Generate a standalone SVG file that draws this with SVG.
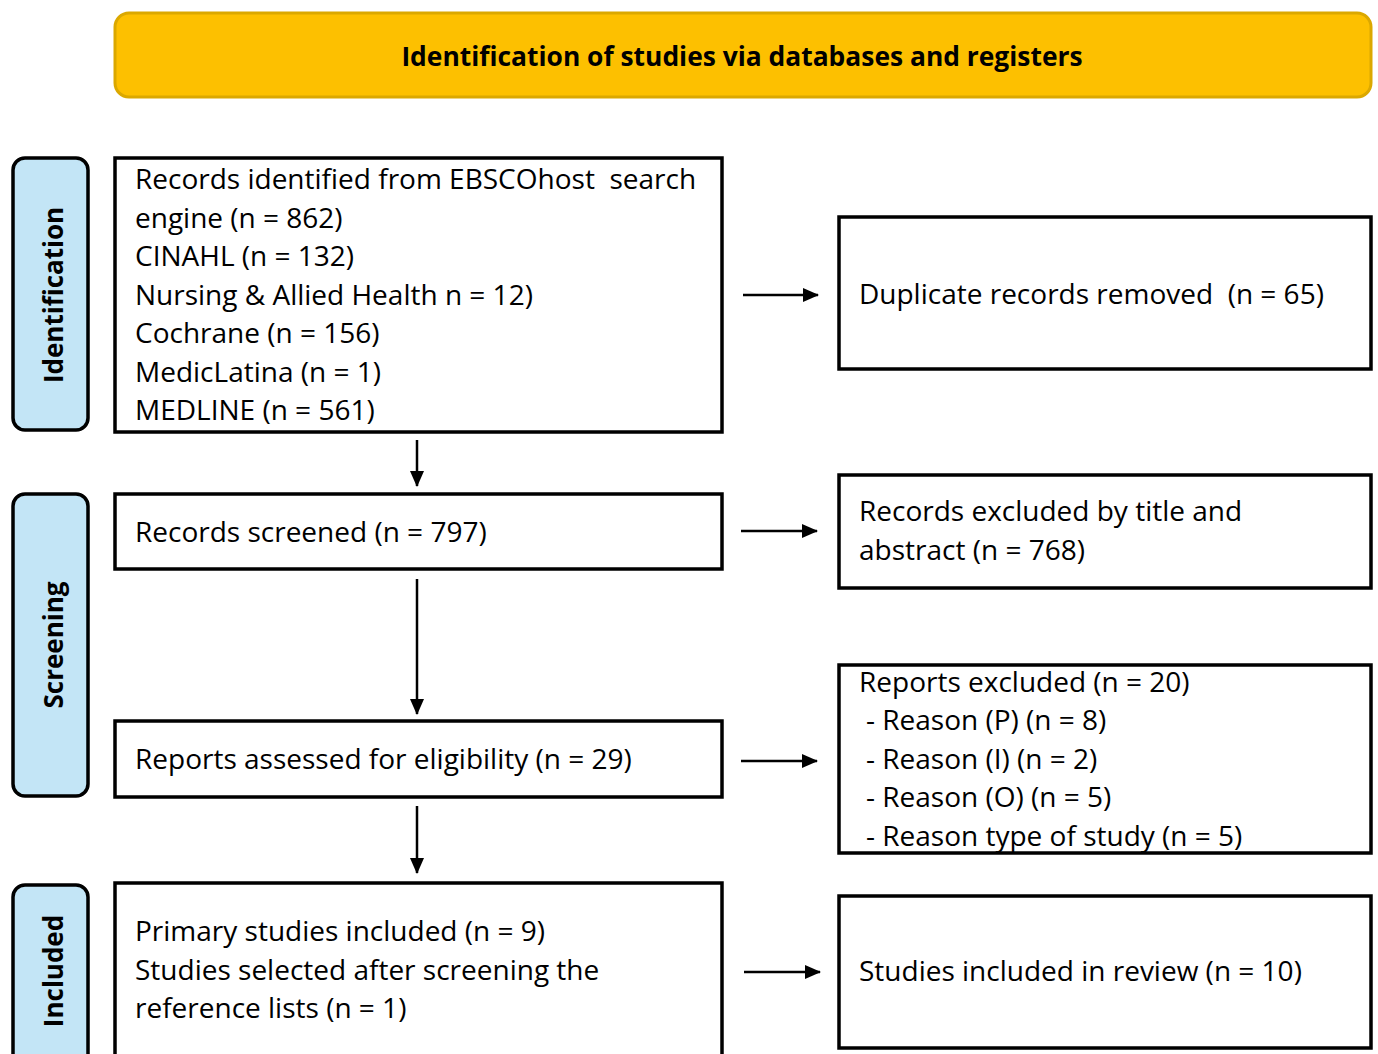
<svg xmlns="http://www.w3.org/2000/svg" width="1378" height="1054" viewBox="0 0 1378 1054">
<style>
.box{fill:#fff;stroke:#000;stroke-width:3.5}
.side{fill:#C3E5F6;stroke:#000;stroke-width:3.5}
.t{font-family:"Open Sans","Liberation Sans",sans-serif;font-size:28px;fill:#000;white-space:pre}
.sl{font-family:"Open Sans","Liberation Sans",sans-serif;font-size:26px;font-weight:bold;fill:#000;text-anchor:middle}
.ttl{font-family:"Open Sans","Liberation Sans",sans-serif;font-size:26.4px;font-weight:bold;fill:#000;text-anchor:middle}
.c{stroke:#000;stroke-width:2.5;fill:none}
</style>
<defs>
<marker id="a" markerWidth="16" markerHeight="14" refX="15" refY="7" orient="auto" markerUnits="userSpaceOnUse" viewBox="0 0 16 14">
<path d="M0,0 L16,7 L0,14 z" fill="#000"/>
</marker>
</defs>
<rect width="1378" height="1054" fill="#fff"/>
<g id="banner">
<rect x="115" y="13" width="1256" height="84" rx="14" fill="#FDC000" stroke="#DBA800" stroke-width="3"/>
<text class="ttl" x="742" y="66">Identification of studies via databases and registers</text>
</g>
<g id="side-identification">
<rect class="side" x="13" y="158" width="75" height="272" rx="12"/>
<text class="sl" transform="translate(63,295) rotate(-90)">Identification</text>
</g>
<g id="side-screening">
<rect class="side" x="13" y="494" width="75" height="302" rx="12"/>
<text class="sl" transform="translate(63,645) rotate(-90)">Screening</text>
</g>
<g id="side-included">
<rect class="side" x="13" y="885" width="75" height="185" rx="12"/>
<text class="sl" transform="translate(63,971) rotate(-90)">Included</text>
</g>
<g id="records-identified">
<rect class="box" x="115" y="158" width="607" height="274"/>
<text class="t" x="135" y="189" xml:space="preserve">Records identified from EBSCOhost  search</text>
<text class="t" x="135" y="228">engine (n = 862)</text>
<text class="t" x="135" y="266">CINAHL (n = 132)</text>
<text class="t" x="135" y="305">Nursing &amp; Allied Health n = 12)</text>
<text class="t" x="135" y="343">Cochrane (n = 156)</text>
<text class="t" x="135" y="382">MedicLatina (n = 1)</text>
<text class="t" x="135" y="420">MEDLINE (n = 561)</text>
</g>
<g id="duplicates">
<rect class="box" x="839" y="217" width="532" height="152"/>
<text class="t" x="859" y="304" xml:space="preserve">Duplicate records removed  (n = 65)</text>
</g>
<g id="screened">
<rect class="box" x="115" y="494" width="607" height="75"/>
<text class="t" x="135" y="542">Records screened (n = 797)</text>
</g>
<g id="excluded-title">
<rect class="box" x="839" y="475" width="532" height="113"/>
<text class="t" x="859" y="521">Records excluded by title and</text>
<text class="t" x="859" y="560">abstract (n = 768)</text>
</g>
<g id="assessed">
<rect class="box" x="115" y="721" width="607" height="76"/>
<text class="t" x="135" y="769">Reports assessed for eligibility (n = 29)</text>
</g>
<g id="reports-excluded">
<rect class="box" x="839" y="665" width="532" height="188"/>
<text class="t" x="859" y="692">Reports excluded (n = 20)</text>
<text class="t" x="866" y="730">- Reason (P) (n = 8)</text>
<text class="t" x="866" y="769">- Reason (I) (n = 2)</text>
<text class="t" x="866" y="807">- Reason (O) (n = 5)</text>
<text class="t" x="866" y="846">- Reason type of study (n = 5)</text>
</g>
<g id="primary-included">
<rect class="box" x="115" y="883" width="607" height="190"/>
<text class="t" x="135" y="941">Primary studies included (n = 9)</text>
<text class="t" x="135" y="980">Studies selected after screening the</text>
<text class="t" x="135" y="1018">reference lists (n = 1)</text>
</g>
<g id="review">
<rect class="box" x="839" y="896" width="532" height="152"/>
<text class="t" x="859" y="981">Studies included in review (n = 10)</text>
</g>
<g id="connectors">
<line class="c" x1="743" y1="295" x2="818" y2="295" marker-end="url(#a)"/>
<line class="c" x1="417" y1="440" x2="417" y2="486" marker-end="url(#a)"/>
<line class="c" x1="741" y1="531" x2="817" y2="531" marker-end="url(#a)"/>
<line class="c" x1="417" y1="579" x2="417" y2="714" marker-end="url(#a)"/>
<line class="c" x1="741" y1="761" x2="817" y2="761" marker-end="url(#a)"/>
<line class="c" x1="417" y1="806" x2="417" y2="873" marker-end="url(#a)"/>
<line class="c" x1="744" y1="972" x2="820" y2="972" marker-end="url(#a)"/>
</g>
</svg>
